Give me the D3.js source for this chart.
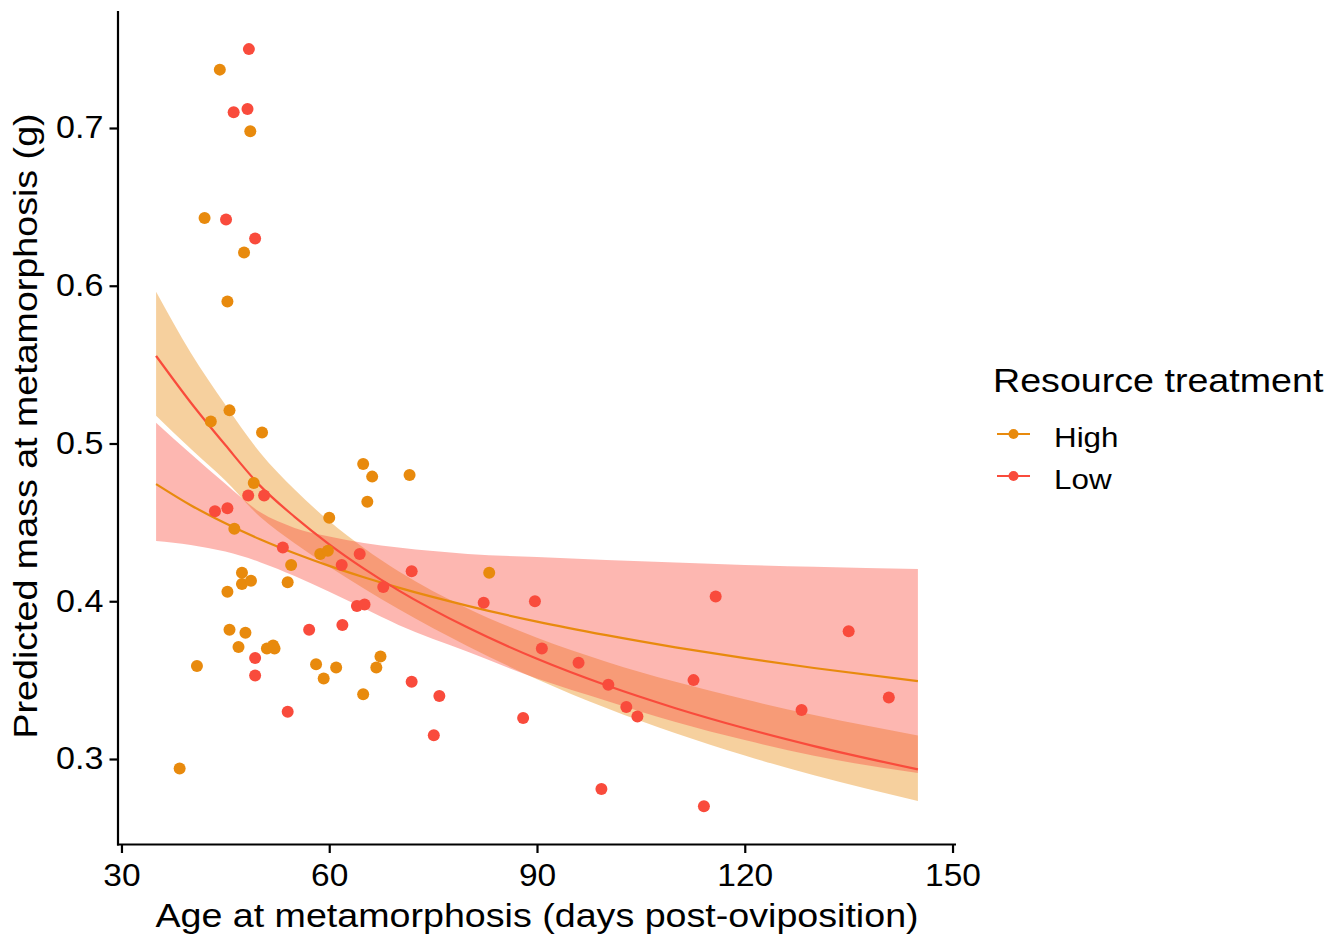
<!DOCTYPE html>
<html>
<head>
<meta charset="utf-8">
<script src="https://cdn.jsdelivr.net/npm/d3@7"></script>
<style>
  html, body { margin: 0; padding: 0; background: #ffffff; }
  svg { display: block; font-family: "Liberation Sans", Arial, Helvetica, sans-serif; }
</style>
</head>
<body>
<svg id="chart" width="1333" height="937"></svg>
<script>
// ---------------- data ----------------
const treatments = ["High", "Low"];
const treatmentColors = ["#E88A0D", "#F94B3C"];

// observed points (age in days, mass in g)
const highAge  = [38.4, 40.9, 42.0, 42.9, 44.2, 45.3, 45.6, 45.3, 45.6, 46.3, 46.9, 47.4, 47.7, 47.9, 47.4, 48.6, 48.7, 49.1, 50.3, 51.0, 51.9, 52.1, 54.0, 54.5, 58.1, 58.7, 59.2, 59.8, 60.0, 61.0, 64.9, 64.9, 65.5, 66.2, 66.8, 67.4, 71.6, 83.1];
const highMass = [0.294, 0.359, 0.643, 0.514, 0.737, 0.590, 0.521, 0.406, 0.382, 0.446, 0.371, 0.418, 0.621, 0.380, 0.411, 0.698, 0.413, 0.475, 0.507, 0.370, 0.372, 0.370, 0.412, 0.423, 0.360, 0.430, 0.351, 0.432, 0.453, 0.358, 0.487, 0.341, 0.463, 0.479, 0.358, 0.365, 0.480, 0.418];
const lowAge   = [43.5, 45.1, 45.3, 46.2, 48.2, 48.4, 48.3, 49.3, 49.3, 49.3, 50.6, 53.3, 54.0, 57.1, 61.8, 61.9, 64.0, 65.1, 64.4, 67.8, 71.9, 71.9, 75.1, 75.9, 82.3, 88.0, 89.7, 90.7, 96.0, 99.3, 100.3, 102.9, 104.5, 112.6, 114.1, 115.8, 128.2, 135.0, 140.8];
const lowMass  = [0.457, 0.642, 0.459, 0.710, 0.712, 0.750, 0.467, 0.630, 0.364, 0.353, 0.467, 0.434, 0.330, 0.382, 0.423, 0.385, 0.397, 0.398, 0.430, 0.409, 0.419, 0.349, 0.315, 0.340, 0.399, 0.326, 0.400, 0.370, 0.361, 0.281, 0.347, 0.333, 0.327, 0.350, 0.270, 0.403, 0.331, 0.381, 0.339];

// fitted curves with confidence bands
const fitAge    = [35, 40, 45, 50, 55, 60, 65, 70, 80, 90, 100, 110, 120, 130, 145];
const highFit   = [0.4743, 0.4609, 0.4494, 0.4393, 0.4304, 0.4224, 0.4152, 0.4086, 0.3971, 0.3871, 0.3785, 0.3708, 0.3639, 0.3577, 0.3494];
const highLower = [0.4382, 0.4357, 0.4315, 0.4248, 0.4160, 0.4060, 0.3955, 0.3850, 0.3680, 0.3510, 0.3370, 0.3235, 0.3120, 0.3020, 0.2911];
const highUpper = [0.5132, 0.4935, 0.4745, 0.4565, 0.4465, 0.4410, 0.4370, 0.4340, 0.4300, 0.4280, 0.4262, 0.4245, 0.4230, 0.4218, 0.4204];
const lowFit    = [0.5555, 0.5260, 0.4990, 0.4733, 0.4535, 0.4361, 0.4207, 0.4069, 0.3833, 0.3635, 0.3467, 0.3322, 0.3195, 0.3082, 0.2934];
const lowLower  = [0.5176, 0.4966, 0.4765, 0.4535, 0.4368, 0.4219, 0.4081, 0.3951, 0.3715, 0.3506, 0.3323, 0.3163, 0.3022, 0.2897, 0.2734];
const lowUpper  = [0.5962, 0.5575, 0.5245, 0.4943, 0.4708, 0.4508, 0.4337, 0.4190, 0.3954, 0.3769, 0.3617, 0.3489, 0.3378, 0.3279, 0.3149];

const xTicks = [30, 60, 90, 120, 150];
const yTicks = [0.3, 0.4, 0.5, 0.6, 0.7];
const xTitle = "Age at metamorphosis (days post-oviposition)";
const yTitle = "Predicted mass at metamorphosis (g)";
const legendTitle = "Resource treatment";

// ---------------- drawing ----------------
const svg = d3.select("#chart");
const x = d3.scaleLinear().domain([29.5, 150.5]).range([118, 956]);
const y = d3.scaleLinear().domain([0.2458, 0.7741]).range([844.5, 11.1]);
const color = d3.scaleOrdinal().domain(treatments).range(treatmentColors);

function stretch(sel, s) {
  sel.each(function () {
    const l = this.getComputedTextLength();
    this.setAttribute("textLength", l * s);
    this.setAttribute("lengthAdjust", "spacingAndGlyphs");
  });
}

const bandData = (lo, hi) => fitAge.map((a, i) => ({a, lo: lo[i], hi: hi[i]}));
const lineData = (v) => fitAge.map((a, i) => ({a, v: v[i]}));

const area = d3.area().curve(d3.curveMonotoneX)
  .x(d => x(d.a)).y0(d => y(d.lo)).y1(d => y(d.hi));
const line = d3.line().curve(d3.curveMonotoneX)
  .x(d => x(d.a)).y(d => y(d.v));

const plot = svg.append("g");
// ribbons (as in the reference: steep Low fit has the orange band, flat High fit the red band)
plot.append("path").datum(bandData(lowLower, lowUpper))
  .attr("d", area).attr("fill", color("High")).attr("fill-opacity", 0.4);
plot.append("path").datum(bandData(highLower, highUpper))
  .attr("d", area).attr("fill", color("Low")).attr("fill-opacity", 0.4);

plot.append("path").datum(lineData(highFit))
  .attr("d", line).attr("fill", "none").attr("stroke", color("High")).attr("stroke-width", 2.2);
plot.append("path").datum(lineData(lowFit))
  .attr("d", line).attr("fill", "none").attr("stroke", color("Low")).attr("stroke-width", 2.2);

const pts = highAge.map((a, i) => ({a, m: highMass[i], g: "High"}))
  .concat(lowAge.map((a, i) => ({a, m: lowMass[i], g: "Low"})));
plot.selectAll("circle.pt").data(pts).join("circle")
  .attr("class", "pt")
  .attr("cx", d => x(d.a)).attr("cy", d => y(d.m)).attr("r", 6)
  .attr("fill", d => color(d.g));

// axes
const xAxis = svg.append("g").attr("transform", "translate(0,844.5)")
  .call(d3.axisBottom(x).tickValues(xTicks).tickSize(8.5).tickSizeOuter(0).tickPadding(11));
const yAxis = svg.append("g").attr("transform", "translate(118,0)")
  .call(d3.axisLeft(y).tickValues(yTicks).tickFormat(d3.format(".1f")).tickSize(8.5).tickSizeOuter(0).tickPadding(6));
[xAxis, yAxis].forEach(g => {
  g.select(".domain").attr("stroke", "#000").attr("stroke-width", 2.2);
  g.selectAll(".tick line").attr("stroke", "#000").attr("stroke-width", 2.2);
  g.selectAll(".tick text").attr("fill", "#000").style("font-size", "31px")
    .style("font-family", "'Liberation Sans', Arial, sans-serif");
});
xAxis.select(".domain").attr("d", "M117,0H956");
yAxis.select(".domain").attr("d", "M0,11.1V845.6");
stretch(xAxis.selectAll(".tick text"), 1.08);
stretch(yAxis.selectAll(".tick text"), 1.1);

// axis titles
const xt = svg.append("text").attr("x", 537).attr("y", 927).attr("text-anchor", "middle")
  .style("font-size", "33px").attr("fill", "#000").text(xTitle);
stretch(xt, 1.14);
const yt = svg.append("text").attr("transform", "translate(37,426) rotate(-90)")
  .attr("text-anchor", "middle").style("font-size", "33px").attr("fill", "#000").text(yTitle);
stretch(yt, 1.14);

// legend
const lg = svg.append("g");
const lt = lg.append("text").attr("x", 993).attr("y", 391.5).style("font-size", "33px")
  .attr("fill", "#000").text(legendTitle);
stretch(lt, 1.14);
const keyY = [434, 476];
treatments.forEach((t, i) => {
  lg.append("line").attr("x1", 997).attr("x2", 1030).attr("y1", keyY[i]).attr("y2", keyY[i])
    .attr("stroke", color(t)).attr("stroke-width", 2.2);
  lg.append("circle").attr("cx", 1013.5).attr("cy", keyY[i]).attr("r", 5).attr("fill", color(t));
  const tx = lg.append("text").attr("x", 1054).attr("y", keyY[i] + 13).style("font-size", "28px")
    .attr("fill", "#000").text(t);
  stretch(tx, 1.12);
});
</script>
</body>
</html>
